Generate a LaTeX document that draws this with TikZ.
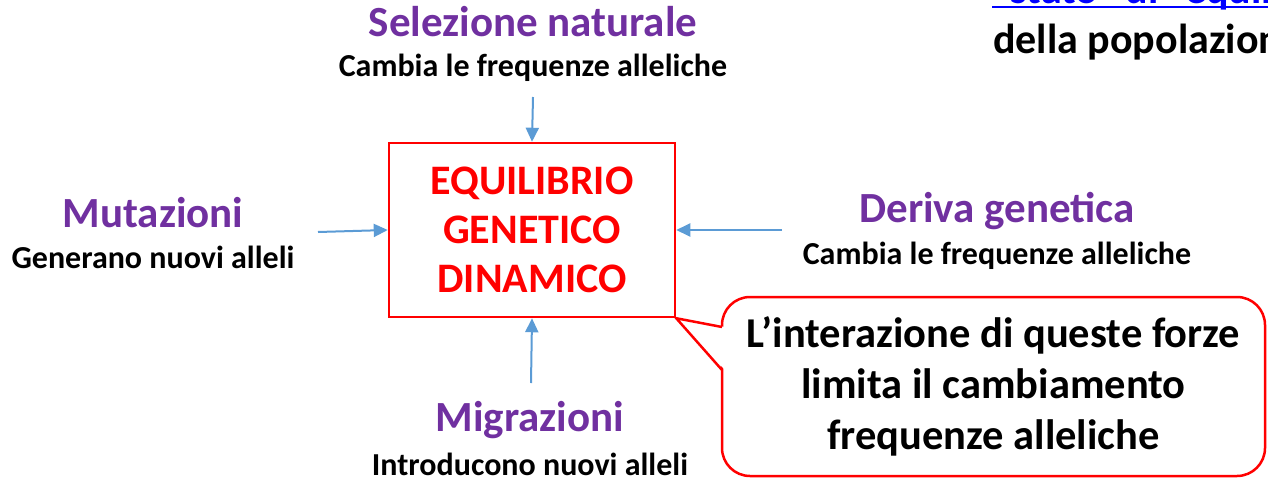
\documentclass[tikz,border=0pt]{standalone}
\usepackage{fontspec}
\setmainfont{Carlito}
\usetikzlibrary{arrows.meta}
\definecolor{forza}{RGB}{112,48,160}
\definecolor{freccia}{RGB}{91,155,213}
\definecolor{linkblu}{RGB}{0,0,255}

\begin{document}
\begin{tikzpicture}[x=1pt,y=-1pt,
    titolo/.style={font=\fontsize{43}{47}\selectfont\bfseries, text=forza, inner sep=0pt},
    sotto/.style={font=\fontsize{32}{36}\selectfont\bfseries, inner sep=0pt},
    spinta/.style={draw=freccia, line width=2pt, -{Triangle[length=14pt,width=13pt]}}]
                \useasboundingbox (0,0) rectangle (1268,479);
                \clip (0,0) rectangle (1268,479);
%
                \node [draw=red, line width=2.5pt, minimum width=286pt, minimum height=174pt,
                       text=red, align=center, font=\fontsize{42}{49}\selectfont\bfseries]
                      (equil) at (532,230) {EQUILIBRIO\\GENETICO\\DINAMICO};
%
                \node [titolo] (sel) at (533,22) {Selezione naturale};
                \node [sotto] (selsub) at (533,68) {Cambia le frequenze alleliche};
                \node [titolo] (mut) at (153,213) {Mutazioni};
                \node [sotto] (mutsub) at (153,257) {Generano nuovi alleli};
                \node [titolo] (der) at (997,211) {Deriva genetica};
                \node [sotto] (dersub) at (997,256) {Cambia le frequenze alleliche};
                \node [titolo] (mig) at (530,420) {Migrazioni};
                \node [sotto] (migsub) at (530,464) {Introducono nuovi alleli};
%
                \coordinate (daSel) at (533,97);
                \coordinate (daMut) at (318,232);
                \coordinate (daDer) at (782,230);
                \coordinate (daMig) at (531,383);
                \draw [spinta] (daSel) -- (equil.north);
                \draw [spinta] (daMut) -- (equil.west);
                \draw [spinta] (daDer) -- (equil.east);
                \draw [spinta] (daMig) -- (equil.south);
%
                \node [draw=red, fill=white, line width=2.5pt, rounded corners=28pt,
                       minimum width=543pt, minimum height=179pt, align=center,
                       font=\fontsize{42.5}{51}\selectfont\bfseries]
                      (nota) at (993.5,386.5) {L’interazione di queste forze\\limita il cambiamento\\frequenze alleliche};
                \coordinate (codaA) at (722,327);
                \coordinate (codaB) at (722,370);
                \fill [white] (equil.south east) -- ([xshift=3pt]codaA) -- ([xshift=3pt]codaB) -- cycle;
                \draw [red, line width=2.5pt] (codaA) -- (equil.south east) -- (codaB);
%
                \node [anchor=base west, inner sep=0pt, text=linkblu,
                       font=\fontsize{42}{46}\selectfont\bfseries] (stato) at (993,3.5) {“stato” di “equilibrio”};
                \draw [linkblu, line width=2.5pt] (992,7) -- (1270,7);
                \node [anchor=base west, inner sep=0pt,
                       font=\fontsize{42}{46}\selectfont\bfseries] (popol) at (993,53) {della popolazione};
\end{tikzpicture}
\end{document}
